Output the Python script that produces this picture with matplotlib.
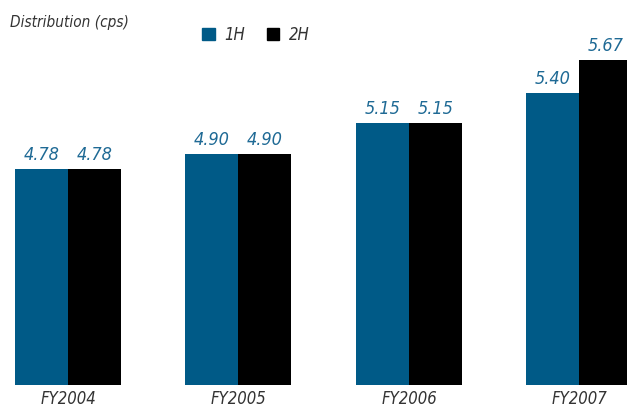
import numpy as np
import matplotlib.pyplot as plt
from matplotlib.patches import Patch

plt.rcParams['font.family'] = ['DejaVu Sans']
plt.rcParams['font.stretch'] = 'condensed'

years = ['FY2004', 'FY2005', 'FY2006', 'FY2007']
first_half = [4.78, 4.90, 5.15, 5.40]
second_half = [4.78, 4.90, 5.15, 5.67]

blue = '#005a87'
black = '#000000'
label_col = '#1f6a95'
text_col = '#333333'

fig = plt.figure(figsize=(6.27, 4.09), dpi=100)
# axes spans full width, bottom at the bar baseline
ax = fig.add_axes([0, 24 / 409, 1, 385 / 409])

x = np.arange(len(years))
w = 53 / 170.5

b1 = ax.bar(x - w / 2, first_half, w, color=blue)
b2 = ax.bar(x + w / 2, second_half, w, color=black)

for bars, vals in ((b1, first_half), (b2, second_half)):
    for rect, v in zip(bars, vals):
        ax.annotate(f'{v:.2f}', (rect.get_x() + rect.get_width() / 2, v),
                    xytext=(0, 6.5), textcoords='offset points',
                    ha='center', va='baseline', fontsize=13, style='italic',
                    stretch='condensed', color=label_col)

ax.set_xlim(-68 / 170.5, (627 - 68) / 170.5)
ax.set_ylim(3.015, 6.158)
ax.axis('off')

for xi, yr in zip(x, years):
    fig.text((68 + 170.5 * xi) / 627, 5 / 409, yr, ha='center', va='baseline',
             fontsize=12, style='italic', stretch='condensed', color=text_col)

fig.text(10 / 627, 1 - 27 / 409, 'Distribution (cps)', fontsize=11,
         style='italic', stretch='condensed', color=text_col, va='baseline')

handles = [Patch(color=blue, label='1H'), Patch(color=black, label='2H')]
fig.legend(handles=handles, loc='center left', bbox_to_anchor=(187 / 627, 1 - 35 / 409),
           ncol=2, frameon=False, handlelength=0.75, handleheight=0.75,
           handletextpad=0.6, columnspacing=1.3,
           prop={'size': 12, 'style': 'italic', 'stretch': 'condensed'},
           labelcolor=text_col)

plt.savefig('out.png', dpi=100)
